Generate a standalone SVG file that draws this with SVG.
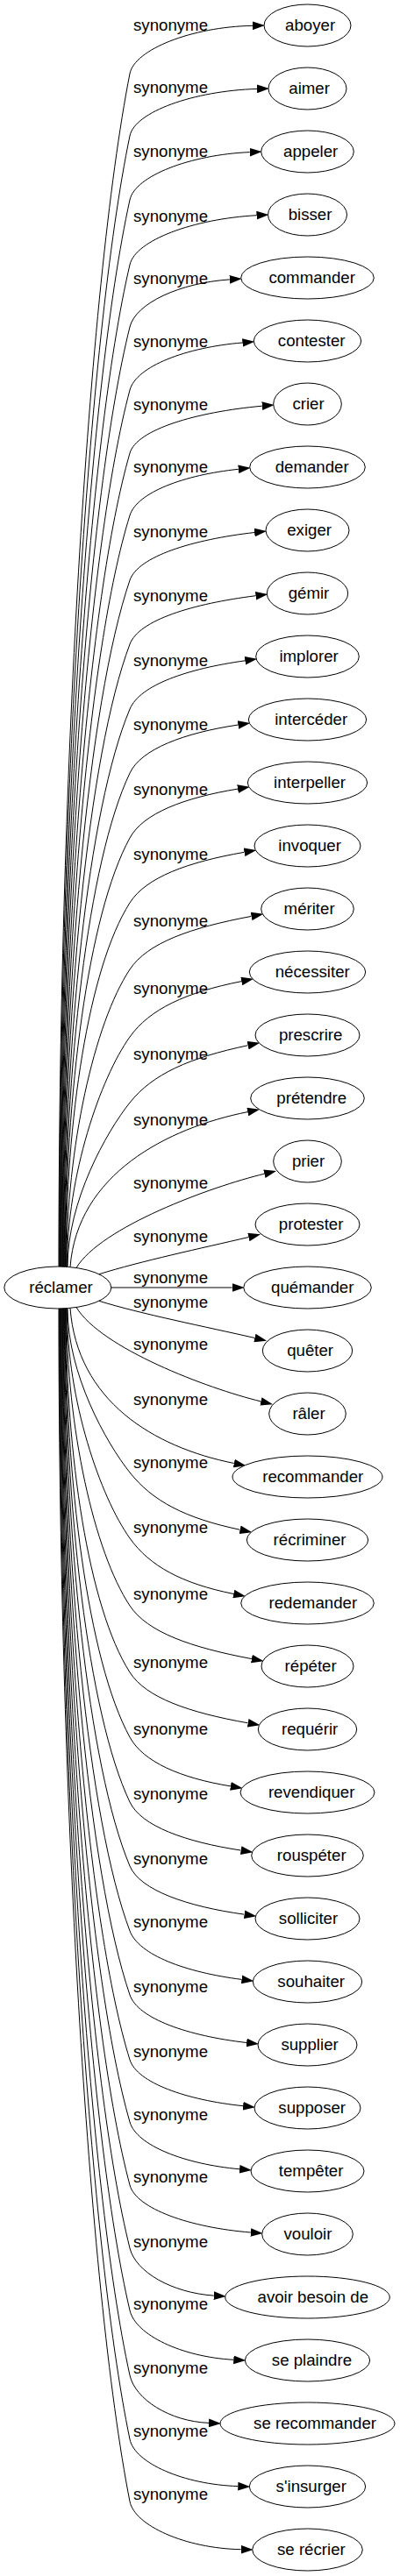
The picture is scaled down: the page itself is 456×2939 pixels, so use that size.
<svg xmlns="http://www.w3.org/2000/svg" width="456" height="2939" viewBox="0 0 456 2939">
<defs>
<marker id="ah" markerUnits="userSpaceOnUse" markerWidth="14" markerHeight="10" viewBox="0 0 13 9" refX="0" refY="4.5" orient="auto"><path d="M0,0 L13,4.5 L0,9 z" fill="#000"/></marker>
</defs>
<style>
text{font-family:"Liberation Sans",Arial,sans-serif;font-size:18.67px;fill:#000}
.n ellipse{fill:#fff;stroke:#000;stroke-width:1}
.e path{fill:none;stroke:#000;stroke-width:1;marker-end:url(#ah)}
</style>
<rect width="456" height="2939" fill="#fff"/>
<g id="connectors" class="e">
<path d="M67,1445.2 C67,900.7 100,329 148,84 C153.4,56.6 218,30.7 288,29.3"/>
<path d="M67.6,1445.2 C67.6,929.1 100,387.2 148,155 C153.6,127.7 220.5,103.7 293,101.4"/>
<path d="M68.3,1445.2 C68.3,958.3 100,447.1 148,228 C154,200.8 216.4,176.6 284.7,173.6"/>
<path d="M68.9,1445.2 C68.9,987.9 100,507.8 148,302 C154.6,273.9 220.3,249.8 292.5,245.7"/>
<path d="M69.5,1445.2 C69.5,1016.3 100,566 148,373 C154.7,345.9 204.9,322.8 261.8,318.9"/>
<path d="M70.1,1445.2 C70.1,1045.1 100,625 148,445 C155.2,418 212.2,396.2 276.4,391"/>
<path d="M70.8,1445.2 C70.8,1073.9 100,684.1 148,517 C155.7,490.1 223.4,470.1 298.8,463.2"/>
<path d="M71.4,1445.2 C71.4,1102.3 100,742.3 148,588 C156.2,561.7 209.9,541.8 271.8,535.3"/>
<path d="M72,1445.2 C72,1131.9 100,803 148,662 C157.3,634.8 219.1,615.7 290.1,607.5"/>
<path d="M72.6,1445.2 C72.6,1161.1 100,862.8 148,735 C158.4,707.3 219.8,688.8 291.5,679.7"/>
<path d="M73.3,1445.2 C73.3,1190.7 100,923.5 148,809 C159.6,781.4 213.6,763 279.3,753.8"/>
<path d="M73.9,1445.2 C73.9,1219.9 100,983.4 148,882 C161,854.5 209.7,836.3 271.4,827"/>
<path d="M74.5,1445.2 C74.5,1249.5 100,1044.1 148,956 C163.2,928 209.5,910.2 271,900.1"/>
<path d="M75.1,1445.2 C75.1,1279.1 100.6,1104.7 148,1030 C166.3,1001.1 213.3,983.7 278.5,972.3"/>
<path d="M75.8,1445.2 C75.8,1309.5 107.5,1167.1 148,1106 C168.1,1075.7 217.3,1058.4 286.6,1045.4"/>
<path d="M76.4,1445.2 C76.4,1340.3 114.4,1230.2 148,1183 C170.6,1151.3 211.7,1132.3 275.3,1119.6"/>
<path d="M77,1445.2 C77,1370.3 121.2,1291.7 148,1258 C174,1225.4 215.3,1207 282.6,1192.7"/>
<path d="M80,1445.6 C88,1340 190,1287 282.3,1268.6"/>
<path d="M87,1446.5 C115,1400 240,1354 301.4,1339.2"/>
<path d="M113,1453.7 C160,1439 230,1424 283.4,1411.5"/>
<path d="M127,1469 L264.7,1469"/>
<path d="M113,1484.3 C160,1499 236,1514 290.4,1526.5"/>
<path d="M87,1491.5 C115,1538 236,1584 297.4,1598.9"/>
<path d="M80,1492.4 C88,1598 174.5,1651 266.8,1669.5"/>
<path d="M77,1492.8 C77,1567.7 121.2,1646.3 148,1680 C174,1712.7 210.8,1732 273.6,1745.3"/>
<path d="M76.4,1492.8 C76.4,1597.7 114.4,1707.8 148,1755 C170.6,1786.7 207.2,1806.6 266.3,1818.5"/>
<path d="M75.8,1492.8 C75.8,1628.5 107.5,1770.9 148,1832 C168.1,1862.3 217.5,1879.5 286.9,1892.6"/>
<path d="M75.1,1492.8 C75.1,1658.9 100.6,1833.3 148,1908 C166.3,1936.9 215.4,1953.9 282.7,1965.8"/>
<path d="M74.5,1492.8 C74.5,1688.5 100,1893.9 148,1982 C163.2,2010 205.4,2028.5 262.9,2037.9"/>
<path d="M73.9,1492.8 C73.9,1718.1 100,1954.6 148,2056 C161,2083.5 211.4,2101.4 274.7,2111.1"/>
<path d="M73.3,1492.8 C73.3,1747.3 100,2014.5 148,2129 C159.6,2156.6 213.3,2175.1 278.6,2184.2"/>
<path d="M72.6,1492.8 C72.6,1776.9 100,2075.2 148,2203 C158.4,2230.7 211.7,2250.2 275.5,2258.4"/>
<path d="M72,1492.8 C72,1806.1 100,2135 148,2276 C157.3,2303.3 214.6,2322.8 281.1,2330.5"/>
<path d="M71.4,1492.8 C71.4,1835.7 100,2195.7 148,2350 C156.2,2376.3 212.6,2396 277.1,2402.7"/>
<path d="M70.8,1492.8 C70.8,1864.1 100,2253.9 148,2421 C155.7,2447.9 210.6,2469.1 273.1,2474.8"/>
<path d="M70.1,1492.8 C70.1,1892.9 100,2313 148,2493 C155.2,2520 216.9,2541.5 285.8,2547"/>
<path d="M69.5,1492.8 C69.5,1921.7 100,2372 148,2565 C154.7,2592.1 195.9,2615.9 243.8,2619.1"/>
<path d="M68.9,1492.8 C68.9,1950.1 100,2430.2 148,2636 C154.6,2664.1 207.2,2689 266.3,2692.3"/>
<path d="M68.3,1492.8 C68.3,1979.7 100,2490.9 148,2710 C154,2737.2 193,2762.5 238,2764.4"/>
<path d="M67.6,1492.8 C67.6,2008.9 100,2550.8 148,2783 C153.6,2810.3 209.7,2834.6 271.3,2836.6"/>
<path d="M67,1492.8 C67,2037.3 100,2609 148,2854 C153.4,2881.4 211.4,2907.5 274.7,2908.7"/>
<g id="edge-labels">
<text x="152" y="35">synonyme</text>
<text x="152" y="106">synonyme</text>
<text x="152" y="179">synonyme</text>
<text x="152" y="253">synonyme</text>
<text x="152" y="324">synonyme</text>
<text x="152" y="396">synonyme</text>
<text x="152" y="468">synonyme</text>
<text x="152" y="539">synonyme</text>
<text x="152" y="613">synonyme</text>
<text x="152" y="686">synonyme</text>
<text x="152" y="760">synonyme</text>
<text x="152" y="833">synonyme</text>
<text x="152" y="907">synonyme</text>
<text x="152" y="981">synonyme</text>
<text x="152" y="1057">synonyme</text>
<text x="152" y="1134">synonyme</text>
<text x="152" y="1209">synonyme</text>
<text x="152" y="1284">synonyme</text>
<text x="152" y="1356">synonyme</text>
<text x="152" y="1417">synonyme</text>
<text x="152" y="1464">synonyme</text>
<text x="152" y="1492">synonyme</text>
<text x="152" y="1540">synonyme</text>
<text x="152" y="1603">synonyme</text>
<text x="152" y="1675">synonyme</text>
<text x="152" y="1749">synonyme</text>
<text x="152" y="1825">synonyme</text>
<text x="152" y="1903">synonyme</text>
<text x="152" y="1979">synonyme</text>
<text x="152" y="2053">synonyme</text>
<text x="152" y="2127">synonyme</text>
<text x="152" y="2199">synonyme</text>
<text x="152" y="2273">synonyme</text>
<text x="152" y="2347">synonyme</text>
<text x="152" y="2419">synonyme</text>
<text x="152" y="2490">synonyme</text>
<text x="152" y="2564">synonyme</text>
<text x="152" y="2635">synonyme</text>
<text x="152" y="2708">synonyme</text>
<text x="152" y="2780">synonyme</text>
<text x="152" y="2852">synonyme</text>
</g>
</g>
<g id="node-reclamer" class="n"><ellipse cx="65.8" cy="1469" rx="61" ry="24"/><text x="33.2" y="1475">réclamer</text></g>
<g id="node-aboyer" class="n"><ellipse cx="350.5" cy="29" rx="49.5" ry="24"/><text x="325.1" y="35">aboyer</text></g>
<g id="node-aimer" class="n"><ellipse cx="350.5" cy="101" rx="44.5" ry="24"/><text x="329.3" y="107">aimer</text></g>
<g id="node-appeler" class="n"><ellipse cx="350.5" cy="173" rx="52.8" ry="24"/><text x="323" y="179">appeler</text></g>
<g id="node-bisser" class="n"><ellipse cx="350.5" cy="245" rx="45" ry="24"/><text x="328.7" y="251">bisser</text></g>
<g id="node-commander" class="n"><ellipse cx="350.5" cy="317" rx="75.8" ry="24"/><text x="306.4" y="323">commander</text></g>
<g id="node-contester" class="n"><ellipse cx="350.5" cy="389" rx="61.2" ry="24"/><text x="316.8" y="395">contester</text></g>
<g id="node-crier" class="n"><ellipse cx="350.5" cy="461" rx="38.8" ry="24"/><text x="333.4" y="467">crier</text></g>
<g id="node-demander" class="n"><ellipse cx="350.5" cy="533" rx="65.8" ry="24"/><text x="313.7" y="539">demander</text></g>
<g id="node-exiger" class="n"><ellipse cx="350.5" cy="605" rx="47.5" ry="24"/><text x="327.2" y="611">exiger</text></g>
<g id="node-gemir" class="n"><ellipse cx="350.5" cy="677" rx="46.2" ry="24"/><text x="328.7" y="683">gémir</text></g>
<g id="node-implorer" class="n"><ellipse cx="350.5" cy="749" rx="58.8" ry="24"/><text x="318.4" y="755">implorer</text></g>
<g id="node-interceder" class="n"><ellipse cx="350.5" cy="821" rx="67.2" ry="24"/><text x="313.2" y="827">intercéder</text></g>
<g id="node-interpeller" class="n"><ellipse cx="350.5" cy="893" rx="68.2" ry="24"/><text x="312.1" y="899">interpeller</text></g>
<g id="node-invoquer" class="n"><ellipse cx="350.5" cy="965" rx="60.5" ry="24"/><text x="317.3" y="971">invoquer</text></g>
<g id="node-meriter" class="n"><ellipse cx="350.5" cy="1037" rx="52.8" ry="24"/><text x="323.6" y="1043">mériter</text></g>
<g id="node-necessiter" class="n"><ellipse cx="350.5" cy="1109" rx="66.2" ry="24"/><text x="313.7" y="1115">nécessiter</text></g>
<g id="node-prescrire" class="n"><ellipse cx="350.5" cy="1181" rx="59.5" ry="24"/><text x="317.9" y="1187">prescrire</text></g>
<g id="node-pretendre" class="n"><ellipse cx="350.5" cy="1253" rx="64.8" ry="24"/><text x="315.3" y="1259">prétendre</text></g>
<g id="node-prier" class="n"><ellipse cx="350.5" cy="1325" rx="38.8" ry="24"/><text x="332.9" y="1331">prier</text></g>
<g id="node-protester" class="n"><ellipse cx="350.5" cy="1397" rx="59.5" ry="24"/><text x="317.8" y="1403">protester</text></g>
<g id="node-quemander" class="n"><ellipse cx="350.5" cy="1469" rx="72.8" ry="24"/><text x="309" y="1475">quémander</text></g>
<g id="node-queter" class="n"><ellipse cx="350.5" cy="1541" rx="51.2" ry="24"/><text x="327.2" y="1547">quêter</text></g>
<g id="node-raler" class="n"><ellipse cx="350.5" cy="1613" rx="43.8" ry="24"/><text x="333.4" y="1619">râler</text></g>
<g id="node-recommander" class="n"><ellipse cx="350.5" cy="1685" rx="85.5" ry="24"/><text x="299.2" y="1691">recommander</text></g>
<g id="node-recriminer" class="n"><ellipse cx="350.5" cy="1757" rx="69.2" ry="24"/><text x="311.6" y="1763">récriminer</text></g>
<g id="node-redemander" class="n"><ellipse cx="350.5" cy="1829" rx="75.8" ry="24"/><text x="306.5" y="1835">redemander</text></g>
<g id="node-repeter" class="n"><ellipse cx="350.5" cy="1901" rx="52.5" ry="24"/><text x="324.6" y="1907">répéter</text></g>
<g id="node-requerir" class="n"><ellipse cx="350.5" cy="1973" rx="56.2" ry="24"/><text x="321" y="1979">requérir</text></g>
<g id="node-revendiquer" class="n"><ellipse cx="350.5" cy="2045" rx="76.5" ry="24"/><text x="305.9" y="2051">revendiquer</text></g>
<g id="node-rouspeter" class="n"><ellipse cx="350.5" cy="2117" rx="63.8" ry="24"/><text x="315.8" y="2123">rouspéter</text></g>
<g id="node-solliciter" class="n"><ellipse cx="350.5" cy="2189" rx="59.5" ry="24"/><text x="317.8" y="2195">solliciter</text></g>
<g id="node-souhaiter" class="n"><ellipse cx="350.5" cy="2261" rx="62.2" ry="24"/><text x="316.3" y="2267">souhaiter</text></g>
<g id="node-supplier" class="n"><ellipse cx="350.5" cy="2333" rx="56.5" ry="24"/><text x="320.4" y="2339">supplier</text></g>
<g id="node-supposer" class="n"><ellipse cx="350.5" cy="2405" rx="60.5" ry="24"/><text x="317.3" y="2411">supposer</text></g>
<g id="node-tempeter" class="n"><ellipse cx="350.5" cy="2477" rx="64.5" ry="24"/><text x="317.8" y="2483">tempêter</text></g>
<g id="node-vouloir" class="n"><ellipse cx="350.5" cy="2549" rx="51.8" ry="24"/><text x="323.5" y="2555">vouloir</text></g>
<g id="node-avoir-besoin-de" class="n"><ellipse cx="350.5" cy="2621" rx="93.8" ry="24"/><text x="293.5" y="2627">avoir besoin de</text></g>
<g id="node-se-plaindre" class="n"><ellipse cx="350.5" cy="2693" rx="71.2" ry="24"/><text x="309.8" y="2699">se plaindre</text></g>
<g id="node-se-recommander" class="n"><ellipse cx="350.5" cy="2765" rx="99.5" ry="24"/><text x="289.1" y="2771">se recommander</text></g>
<g id="node-s-insurger" class="n"><ellipse cx="350.5" cy="2837" rx="66.2" ry="24"/><text x="314.6" y="2843">s'insurger</text></g>
<g id="node-se-recrier" class="n"><ellipse cx="350.5" cy="2909" rx="62.8" ry="24"/><text x="316" y="2915">se récrier</text></g>
</svg>
